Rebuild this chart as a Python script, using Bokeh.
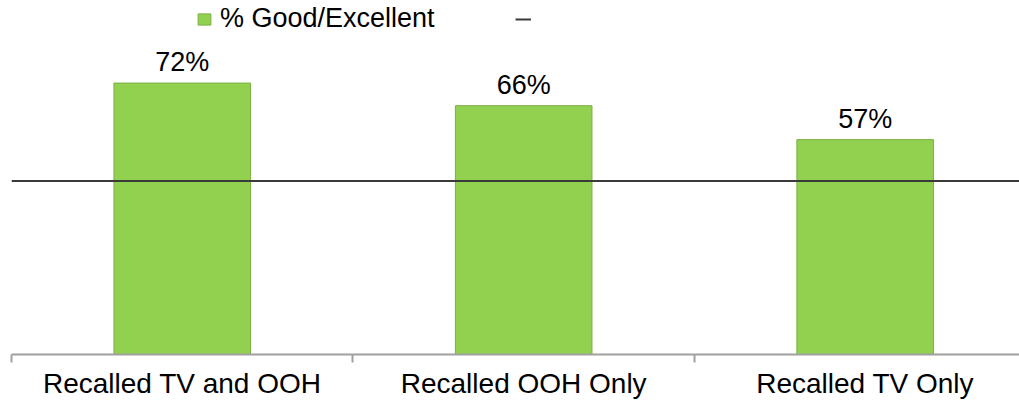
from bokeh.plotting import figure
from bokeh.models import (Range1d, FixedTicker, LabelSet, ColumnDataSource,
                          Legend, LegendItem)
from bokeh.core.properties import value
from bokeh.embed import file_html
from bokeh.resources import INLINE

categories = ["Recalled TV and OOH", "Recalled OOH Only", "Recalled TV Only"]
good_excellent = [72, 66, 57]
value_labels = ["72%", "66%", "57%"]
benchmark = 46

xs = [i + 0.5 for i in range(len(categories))]
src = ColumnDataSource(dict(x=xs, top=good_excellent, lab=value_labels))

FONT = "Liberation Sans"

p = figure(width=1019, height=401, output_backend="svg", toolbar_location=None,
           x_range=Range1d(0, 2.952), y_range=Range1d(0, 93.9),
           min_border_left=11, min_border_right=0, min_border_top=0,
           min_border_bottom=0)
p.outline_line_color = None
p.xgrid.visible = False
p.ygrid.visible = False
p.yaxis.visible = False

bars = p.vbar(x="x", top="top", width=0.40, source=src,
              fill_color="#92D050", line_color="#7DAF45", line_width=1)

line = p.line(x=[0, len(categories)], y=[benchmark, benchmark],
              line_color="#3a3a3a", line_width=2)

labels = LabelSet(x="x", y="top", text="lab", source=src, text_align="center",
                  text_baseline="alphabetic", y_offset=12,
                  text_font=value(FONT), text_font_size="27px", text_color="black")
p.add_layout(labels)

ax = p.xaxis[0]
ax.ticker = FixedTicker(ticks=xs, minor_ticks=list(range(len(categories) + 1)))
ax.major_label_overrides = {x: c for x, c in zip(xs, categories)}
ax.axis_line_color = "#a0a0a0"
ax.axis_line_width = 2
ax.major_tick_line_color = None
ax.major_tick_out = 8
ax.major_tick_in = 0
ax.minor_tick_line_color = "#a0a0a0"
ax.minor_tick_line_width = 2
ax.minor_tick_out = 8
ax.minor_tick_in = 0
ax.major_label_standoff = 5
ax.major_label_text_font = FONT
ax.major_label_text_font_size = "28px"
ax.major_label_text_color = "black"

legend = Legend(items=[LegendItem(label="% Good/Excellent", renderers=[bars]),
                       LegendItem(label=" ", renderers=[line])],
                orientation="horizontal", location=(185, 320),
                padding=0, margin=0, spacing=80, label_standoff=8,
                glyph_width=16, glyph_height=14,
                label_text_font=FONT, label_text_font_size="27px",
                label_text_color="black", border_line_color=None,
                background_fill_alpha=0)
p.add_layout(legend)

open("out.html", "w").write(file_html(p, INLINE))
